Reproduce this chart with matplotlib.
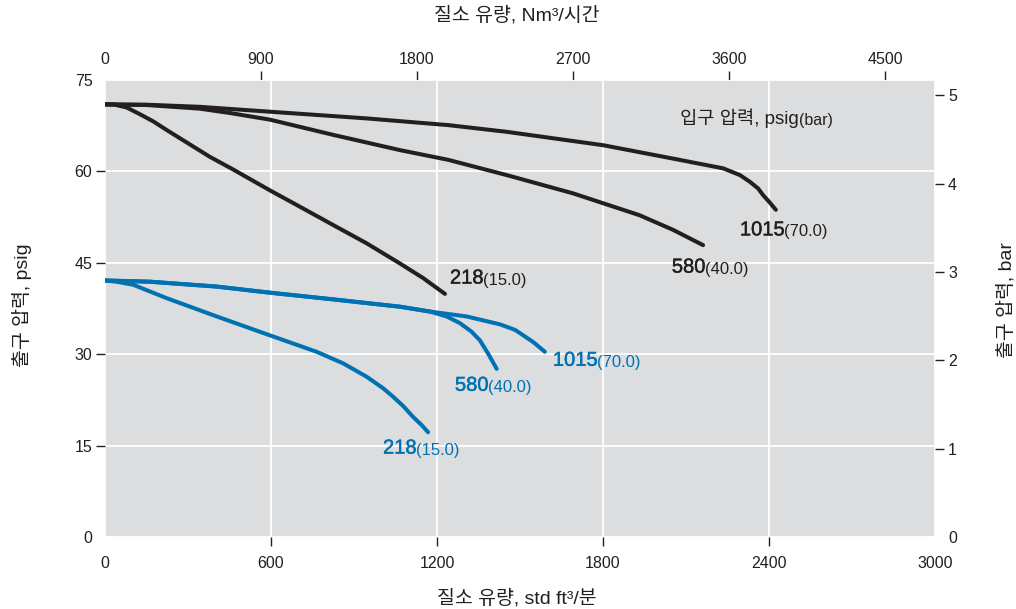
import matplotlib
matplotlib.use('Agg')
import matplotlib.pyplot as plt
import matplotlib.patheffects as pe

####################
# DATA
####################

# Outlet pressure (psig) vs. flow (scfm), one curve per inlet pressure
# black = higher regulator setting, blue = lower regulator setting
blk_218_x = [0, 30, 78, 126, 175, 223, 379, 464, 596, 705, 825, 946, 1066, 1150, 1229]
blk_218_y = [71.0, 71.0, 70.5, 69.4, 68.2, 66.8, 62.4, 60.3, 56.9, 54.2, 51.2, 48.2,
             44.9, 42.5, 39.9]

blk_580_x = [0, 150, 343, 450, 596, 825, 1066, 1241, 1452, 1692, 1933, 2054, 2162]
blk_580_y = [71.0, 70.9, 70.3, 69.6, 68.5, 66.0, 63.5, 61.9, 59.4, 56.4, 52.8, 50.4, 47.9]

blk_1015_x = [0, 150, 343, 596, 946, 1241, 1452, 1801, 2054, 2235, 2295, 2331, 2361,
              2379, 2403, 2425]
blk_1015_y = [71.0, 70.95, 70.6, 69.8, 68.7, 67.6, 66.5, 64.3, 62.1, 60.5, 59.4, 58.3,
              57.2, 56.1, 54.9, 53.7]

blu_218_x = [0, 42, 102, 223, 404, 596, 765, 861, 946, 1006, 1042, 1078, 1114, 1144, 1168]
blu_218_y = [42.1, 41.9, 41.4, 39.2, 36.2, 33.1, 30.4, 28.5, 26.3, 24.4, 23.0, 21.5,
             19.7, 18.4, 17.2]

blu_580_x = [0, 163, 404, 596, 825, 1066, 1175, 1235, 1283, 1325, 1355, 1385, 1416]
blu_580_y = [42.1, 41.9, 41.1, 40.1, 39.0, 37.8, 37.0, 36.2, 35.1, 33.7, 32.3, 30.1, 27.6]

blu_1015_x = [0, 163, 404, 596, 825, 1066, 1175, 1307, 1428, 1482, 1512, 1548, 1590]
blu_1015_y = [42.1, 41.9, 41.1, 40.1, 39.0, 37.8, 37.0, 36.2, 34.9, 34.0, 33.1, 32.0, 30.4]

# Curve labels: (x, y, big text, small text)
blk_labels = [(1247, 42.5, '218', '(15.0)'),
              (2049, 44.3, '580', '(40.0)'),
              (2295, 50.4, '1015', '(70.0)')]
blu_labels = [(1005, 14.6, '218', '(15.0)'),
              (1265, 24.9, '580', '(40.0)'),
              (1619, 29.0, '1015', '(70.0)')]

x_ticks = [0, 600, 1200, 1800, 2400, 3000]
y_ticks = [0, 15, 30, 45, 60, 75]
top_ticks = [0, 900, 1800, 2700, 3600, 4500]
right_ticks = [0, 1, 2, 3, 4, 5]

# Unit conversions
SCFM_TO_NM3H = 1.596
PSI_PER_BAR = 14.5038

####################
# STYLE
####################
plt.rcParams['font.family'] = ['Liberation Sans', 'Noto Sans CJK KR']
txt_col = '#231f20'
blk_col = '#231f20'
blu_col = '#0071b3'
bg_col = '#dcdddf'

####################
# PLOT
####################
fig = plt.figure(figsize=(10.16, 6.09), dpi=100)
ax = fig.add_axes([0.1033, 0.1182, 0.8169, 0.7504])
ax.set_facecolor(bg_col)

for xs, ys in [(blk_218_x, blk_218_y), (blk_580_x, blk_580_y), (blk_1015_x, blk_1015_y)]:
    ax.plot(xs, ys, color=blk_col, lw=2.9, solid_capstyle='round',
            solid_joinstyle='round', zorder=3)
for xs, ys in [(blu_218_x, blu_218_y), (blu_580_x, blu_580_y), (blu_1015_x, blu_1015_y)]:
    ax.plot(xs, ys, color=blu_col, lw=2.9, solid_capstyle='round',
            solid_joinstyle='round', zorder=3)

ax.set_xlim(0, 3000)
ax.set_ylim(0, 75)
ax.set_xticks(x_ticks)
ax.set_yticks(y_ticks)
ax.grid(color='white', lw=1.3)
ax.set_axisbelow(True)
for s in ax.spines.values():
    s.set_visible(False)
ax.tick_params(axis='both', colors=txt_col, labelsize=11.5, length=6.5, width=1)
ax.tick_params(axis='x', pad=7)
ax.tick_params(axis='y', pad=2.5)

# hide tick marks at the ends of the axes
for t in [ax.xaxis.get_major_ticks()[0], ax.xaxis.get_major_ticks()[-1],
          ax.yaxis.get_major_ticks()[0], ax.yaxis.get_major_ticks()[-1]]:
    t.tick1line.set_visible(False)

# Secondary axes
top = ax.secondary_xaxis('top', functions=(lambda v: v * SCFM_TO_NM3H,
                                           lambda v: v / SCFM_TO_NM3H))
top.set_xticks(top_ticks)
top.tick_params(colors=txt_col, labelsize=11.5, length=6.5, width=1, pad=3)
top.xaxis.get_major_ticks()[0].tick2line.set_visible(False)

right = ax.secondary_yaxis('right', functions=(lambda v: v / PSI_PER_BAR,
                                               lambda v: v * PSI_PER_BAR))
right.set_yticks(right_ticks)
right.tick_params(colors=txt_col, labelsize=11.5, length=6.5, width=1, pad=3)
right.yaxis.get_major_ticks()[0].tick2line.set_visible(False)

for sec in (top, right):
    for s in sec.spines.values():
        s.set_visible(False)


def add_label(x, y, big, small, color):
    t = ax.text(x, y, big, color=color, fontsize=14.5, ha='left', va='center', zorder=4,
                path_effects=[pe.withStroke(linewidth=0.3, foreground=color)])
    ax.annotate(small, xy=(1, 0), xycoords=t, color=color, fontsize=12,
                ha='left', va='bottom', zorder=4)


for x, y, b, s in blk_labels:
    add_label(x, y, b, s, txt_col)
for x, y, b, s in blu_labels:
    add_label(x, y, b, s, blu_col)

t = ax.text(2078, 68.8, '입구 압력, psig', color=txt_col, fontsize=13.5,
            ha='left', va='center')
ax.annotate('(bar)', xy=(1, 0), xycoords=t, color=txt_col, fontsize=11.5,
            ha='left', va='bottom')

# Axis titles
fig.text(0.509, 0.975, '질소 유량, Nm³/시간', color=txt_col, fontsize=14,
         ha='center', va='center')
fig.text(0.509, 0.018, '질소 유량, std ft³/분', color=txt_col, fontsize=14,
         ha='center', va='center')
fig.text(0.0217, 0.499, '출구 압력, psig', color=txt_col, fontsize=14,
         ha='center', va='center', rotation=90)
fig.text(0.99, 0.507, '출구 압력, bar', color=txt_col, fontsize=14,
         ha='center', va='center', rotation=90)

fig.savefig('out.png', dpi=100)
